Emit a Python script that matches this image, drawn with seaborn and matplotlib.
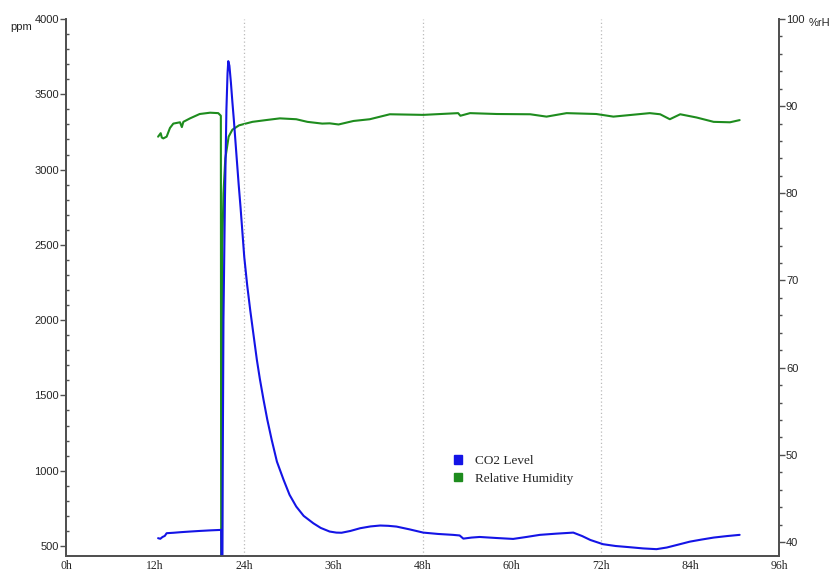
import matplotlib
matplotlib.use("Agg")
import matplotlib.pyplot as plt
import matplotlib.ticker as mticker
from matplotlib.patches import Patch
import seaborn as sns
import pandas as pd

# ---- data ----
co2_hours = [12.4, 12.7, 13.0, 13.3, 13.55, 14.5, 15.5, 16.7, 18.0, 19.5, 20.9, 20.95,
             21.05, 21.1, 21.2, 21.4, 21.6, 21.75, 21.85, 22.0, 22.2, 22.4, 22.6, 23.0,
             23.25, 23.5, 24.0, 24.4, 24.8, 25.2, 25.7, 26.1, 26.6, 27.1, 27.7, 28.4,
             29.3, 30.1, 31.0, 32.0, 33.3, 34.3, 35.5, 36.4, 37.1, 38.3, 39.6, 41.0,
             42.3, 43.4, 44.5, 46.3, 48.1, 50.1, 52.1, 53.0, 53.5, 54.6, 55.7, 58.0,
             60.2, 62.0, 63.8, 66.0, 68.3, 69.5, 70.6, 72.3, 74.0, 75.9, 77.7, 79.5,
             80.9, 82.5, 84.0, 85.6, 87.2, 89.0, 90.7]
co2_ppm = [552, 548, 560, 567, 585, 588, 592, 596, 600, 604, 607, 300,
           300, 1000, 2000, 2800, 3400, 3640, 3720, 3690, 3580, 3450, 3330, 3064,
           2900, 2750, 2420, 2230, 2068, 1920, 1736, 1610, 1470, 1340, 1204, 1060,
           939, 840, 762, 700, 651, 620, 596, 589, 588, 600, 618, 630,
           636, 634, 629, 610, 589, 580, 574, 570, 549, 556, 560, 553,
           547, 560, 574, 582, 589, 566, 540, 512, 500, 492, 484, 479,
           490, 510, 529, 543, 556, 566, 574]

rh_hours = [12.4, 12.75, 12.9, 13.1, 13.55, 14.0, 14.45, 15.35, 15.6, 15.8, 16.7, 18.0,
            19.4, 20.5, 20.85, 20.9, 21.0, 21.05, 21.2, 21.45, 21.9, 22.4, 23.3, 25.1,
            26.9, 28.8, 31.0, 32.5, 34.5, 35.5, 36.7, 38.7, 40.9, 43.6, 48.1, 52.8,
            53.1, 54.4, 58.0, 62.5, 64.7, 67.4, 71.4, 73.7, 78.6, 80.0, 81.3, 82.7,
            84.9, 87.2, 89.4, 90.7]
rh_pct = [86.5, 86.9, 86.4, 86.3, 86.5, 87.5, 88.0, 88.15, 87.6, 88.2, 88.6, 89.1,
          89.25, 89.2, 88.9, 30.0, 30.0, 74.0, 80.0, 84.0, 86.5, 87.3, 87.8, 88.2,
          88.4, 88.6, 88.5, 88.2, 88.0, 88.03, 87.9, 88.3, 88.5, 89.07, 89.0, 89.2,
          88.9, 89.2, 89.1, 89.07, 88.8, 89.2, 89.1, 88.8, 89.2, 89.07, 88.5, 89.07,
          88.7, 88.2, 88.15, 88.4]

x_ticks = [0, 12, 24, 36, 48, 60, 72, 84, 96]
x_labels = ["0h", "12h", "24h", "36h", "48h", "60h", "72h", "84h", "96h"]
grid_hours = [24, 48, 72]
legend_labels = ["CO2 Level", "Relative Humidity"]

blue = "#1414e6"
green = "#1e8c1e"

sns.set_style("white")
plt.rcParams["font.family"] = ["Liberation Sans", "DejaVu Sans"]

fig = plt.figure(figsize=(8.32, 5.71), dpi=100)
ax = fig.add_axes([66 / 832, 15 / 571, 713 / 832, 537 / 571])
ax2 = ax.twinx()

co2_df = pd.DataFrame({"hours": co2_hours, "ppm": co2_ppm})
rh_df = pd.DataFrame({"hours": rh_hours, "rh": rh_pct})

sns.lineplot(data=rh_df, x="hours", y="rh", ax=ax2, color=green, lw=1.5,
             estimator=None, sort=False, legend=False)
sns.lineplot(data=co2_df, x="hours", y="ppm", ax=ax, color=blue, lw=1.5,
             estimator=None, sort=False, legend=False)

ax.set_zorder(ax2.get_zorder() + 1)
ax.patch.set_visible(False)

ax.set_xlim(0, 96)
ax.set_ylim(433.6, 4000)
ax2.set_ylim(38.39, 100)

for gx in grid_hours:
    ax.axvline(gx, color="#bbbbbb", lw=0.9, ls=(0, (1, 2)), zorder=0)

ax.set_xticks(x_ticks)
ax.set_xticklabels(x_labels, fontfamily="Liberation Serif", fontsize=8.5)
ax.yaxis.set_major_locator(mticker.MultipleLocator(500))
ax.yaxis.set_minor_locator(mticker.MultipleLocator(100))
ax2.yaxis.set_major_locator(mticker.MultipleLocator(10))
ax2.yaxis.set_minor_locator(mticker.MultipleLocator(2))

spine_c = "#505050"
for a in (ax, ax2):
    for s in a.spines.values():
        s.set_color(spine_c)
        s.set_linewidth(1.3)
    a.spines["top"].set_visible(False)
    a.set_xlabel("")
    a.set_ylabel("")

ax.tick_params(axis="x", which="major", direction="out", length=3, width=1, color=spine_c,
               pad=0, labelsize=8.5)
ax.tick_params(axis="y", which="major", direction="out", length=4, width=1, color=spine_c,
               pad=1, labelsize=8)
ax.tick_params(axis="y", which="minor", direction="in", length=2, width=1, color=spine_c,
               left=True)
ax2.tick_params(axis="y", which="major", direction="out", length=4, width=1, color=spine_c,
                pad=1, labelsize=8)
ax2.tick_params(axis="y", which="minor", direction="out", length=2, width=1, color=spine_c,
                right=True)

fig.text(21 / 832, 1 - 27 / 571, "ppm", fontsize=8, ha="center", va="center")
fig.text(819 / 832, 1 - 23 / 571, "%rH", fontsize=8, ha="center", va="center")

handles = [Patch(facecolor=blue, edgecolor=blue), Patch(facecolor=green, edgecolor=green)]
ax.legend(handles, legend_labels, loc="upper left",
          bbox_to_anchor=((454 - 66) / 713, (556 - 455) / 537),
          frameon=False, borderpad=0, borderaxespad=0,
          handlelength=0.6, handleheight=0.6, handletextpad=1.0, labelspacing=0.45,
          prop={"family": "Liberation Serif", "size": 9.5})

fig.savefig("out.png", dpi=100)
